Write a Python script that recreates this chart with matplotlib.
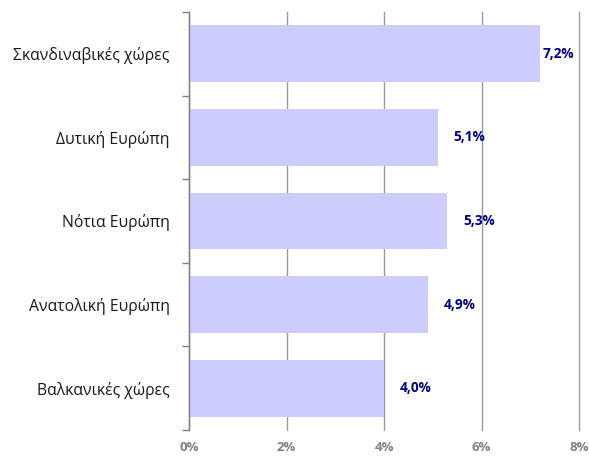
import matplotlib.pyplot as plt
import numpy as np

regions = ['Σκανδιναβικές χώρες', 'Δυτική Ευρώπη', 'Νότια Ευρώπη',
           'Ανατολική Ευρώπη', 'Βαλκανικές χώρες']
shares = [7.2, 5.1, 5.3, 4.9, 4.0]
xticks = [0, 2, 4, 6, 8]

plt.rcParams['font.family'] = ['Open Sans', 'DejaVu Sans']

fig = plt.figure(figsize=(5.89, 4.57), dpi=100)
ax = fig.add_axes([0.321, 0.059, 0.662, 0.915])

y = np.arange(len(regions))
ax.barh(y, shares, height=0.68, color='#CCCCFF', zorder=2)

# value labels sit just right of each bar, kept inside the last grid column
for yi, v in zip(y, shares):
    label = f'{v:.1f}%'.replace('.', ',')
    x_text = min(v + 0.33, v + 0.05 if v > 7 else v + 0.33)
    ax.text(x_text, yi, label, va='center', ha='left', fontsize=9.8,
            fontweight='bold', color='#000080', zorder=3)

ax.set_xlim(0, 8)
ax.set_ylim(len(regions) - 0.5, -0.5)
ax.set_xticks(xticks)
ax.set_xticklabels([f'{t}%' for t in xticks], fontsize=9.5, fontweight='bold',
                   color='#808080')
ax.tick_params(axis='x', length=0, pad=8)

ax.set_yticks(y)
ax.set_yticklabels(regions, fontsize=11.3, color='#1a1a1a')
ax.tick_params(axis='y', which='major', length=0, pad=14)
ax.set_yticks(np.arange(-0.5, len(regions)), minor=True)
ax.tick_params(axis='y', which='minor', length=5, color='#808080', width=1)

ax.grid(axis='x', color='#9a9a9a', linewidth=1, zorder=1)
for gl in ax.get_xgridlines():
    gl.set_clip_on(False)
for side in ['top', 'right', 'bottom']:
    ax.spines[side].set_visible(False)
ax.spines['left'].set_color('#808080')
ax.spines['left'].set_linewidth(1)
ax.spines['left'].set_zorder(4)

fig.savefig('out.png', dpi=100)
